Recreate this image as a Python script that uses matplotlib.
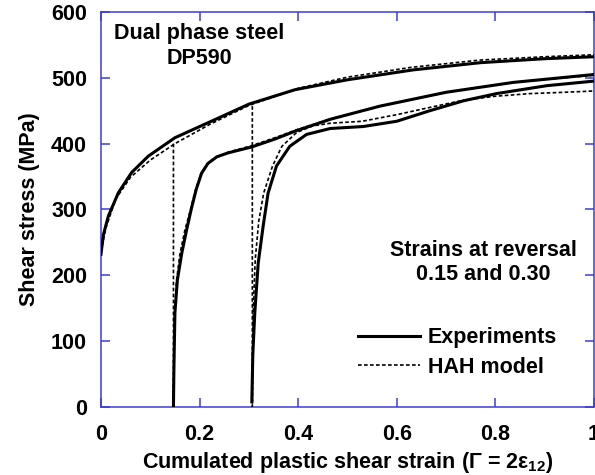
import matplotlib
matplotlib.use("Agg")
import matplotlib.pyplot as plt

plt.rcParams['font.family'] = ['Liberation Sans', 'DejaVu Sans']
plt.rcParams['mathtext.fontset'] = 'custom'
plt.rcParams['mathtext.rm'] = 'Liberation Sans'
plt.rcParams['mathtext.bf'] = 'Liberation Sans:bold'

# experiments: monotonic shear and reverse shear after 0.15 and 0.30
exp_mono_x = [0.0, 0.005, 0.015, 0.035, 0.062, 0.096, 0.15, 0.218, 0.30, 0.394, 0.50, 0.633, 0.77, 0.90, 1.0]
exp_mono_y = [232, 262, 290, 325, 356, 381, 409, 432, 460, 482, 497, 512, 523, 529, 532]

exp_rev1_x = [0.147, 0.148, 0.150, 0.155, 0.164, 0.174, 0.183, 0.193, 0.204, 0.217, 0.235, 0.258, 0.306, 0.353, 0.394, 0.465, 0.566, 0.70, 0.836, 1.0]
exp_rev1_y = [0, 60, 143, 193, 234, 270, 300, 330, 355, 370, 380, 386, 395, 407, 419, 437, 457, 478, 493, 505]

exp_rev2_x = [0.306, 0.308, 0.312, 0.319, 0.329, 0.339, 0.356, 0.383, 0.417, 0.465, 0.532, 0.60, 0.667, 0.735, 0.802, 0.904, 1.0]
exp_rev2_y = [8, 80, 143, 219, 275, 325, 366, 396, 414, 423, 426, 434, 450, 465, 476, 488, 495]

# HAH model
hah_mono_x = [0.0, 0.01, 0.03, 0.06, 0.10, 0.15, 0.22, 0.30, 0.40, 0.50, 0.63, 0.77, 0.90, 1.0]
hah_mono_y = [236, 272, 316, 349, 375, 400, 429, 458, 484, 501, 516, 527, 532, 535]

hah_rev1_x = [0.147, 0.147, 0.149, 0.153, 0.160, 0.170, 0.181, 0.191, 0.202, 0.215, 0.233, 0.258, 0.306, 0.353, 0.40, 0.465, 0.566, 0.70, 0.836, 1.0]
hah_rev1_y = [400, 0, 130, 190, 232, 268, 298, 328, 353, 369, 379, 387, 397, 409, 422, 437, 457, 478, 493, 504]

hah_rev2_x = [0.307, 0.307, 0.309, 0.313, 0.320, 0.330, 0.348, 0.367, 0.397, 0.43, 0.465, 0.53, 0.60, 0.667, 0.735, 0.80, 0.87, 0.94, 1.0]
hah_rev2_y = [457, 0, 150, 225, 282, 325, 366, 396, 417, 427, 431, 434, 444, 455, 466, 472, 476, 478, 480]

x_ticks = [0, 0.2, 0.4, 0.6, 0.8, 1.0]
x_tick_labels = ['0', '0.2', '0.4', '0.6', '0.8', '1']
y_ticks = [0, 100, 200, 300, 400, 500, 600]

blue = '#3c3cdc'
dash = (0, (2.2, 1.4))

fig = plt.figure(figsize=(5.95, 4.75), dpi=100)
ax = fig.add_axes([0.1697, 0.1432, 0.8286, 0.8316])

exp_line, = ax.plot(exp_mono_x, exp_mono_y, color='black', lw=2.2, zorder=3)
ax.plot(exp_rev1_x, exp_rev1_y, color='black', lw=2.2, zorder=3)
ax.plot(exp_rev2_x, exp_rev2_y, color='black', lw=2.2, zorder=3)

hah_line, = ax.plot(hah_mono_x, hah_mono_y, color='black', lw=1.2, ls=dash, zorder=4)
ax.plot(hah_rev1_x, hah_rev1_y, color='black', lw=1.2, ls=dash, zorder=4)
ax.plot(hah_rev2_x, hah_rev2_y, color='black', lw=1.2, ls=dash, zorder=4)

ax.set_xlim(0, 1)
ax.set_ylim(0, 600)
ax.set_xticks(x_ticks)
ax.set_xticklabels(x_tick_labels)
ax.set_yticks(y_ticks)

for sp in ax.spines.values():
    sp.set_color(blue)
    sp.set_linewidth(1.1)
ax.tick_params(direction='in', length=6.5, width=1.1, color=blue,
               top=True, right=True, labelsize=15.5)
ax.tick_params(axis='x', pad=12)
ax.tick_params(axis='y', pad=10)
for lab in ax.get_xticklabels() + ax.get_yticklabels():
    lab.set_fontweight('bold')

ax.set_xlabel(r'Cumulated plastic shear strain (Γ = 2ε$_{\mathbf{12}}$)',
              fontsize=15.5, fontweight='bold', labelpad=4)
ax.set_ylabel('Shear stress (MPa)', fontsize=15.5, fontweight='bold', labelpad=8)

ax.text(0.199, 548, 'Dual phase steel\nDP590', ha='center', va='center',
        fontsize=15.5, fontweight='bold', linespacing=1.25)
ax.text(0.775, 220, 'Strains at reversal\n0.15 and 0.30', ha='center', va='center',
        fontsize=15.5, fontweight='bold', linespacing=1.2)

ax.legend([exp_line, hah_line], ['Experiments', 'HAH model'],
          loc='center left', bbox_to_anchor=(0.521, 0.138), frameon=False,
          borderpad=0, borderaxespad=0, handlelength=2.9, handletextpad=0.35,
          labelspacing=0.4, prop={'size': 15.5, 'weight': 'bold'})

fig.savefig('out.png', dpi=100)
